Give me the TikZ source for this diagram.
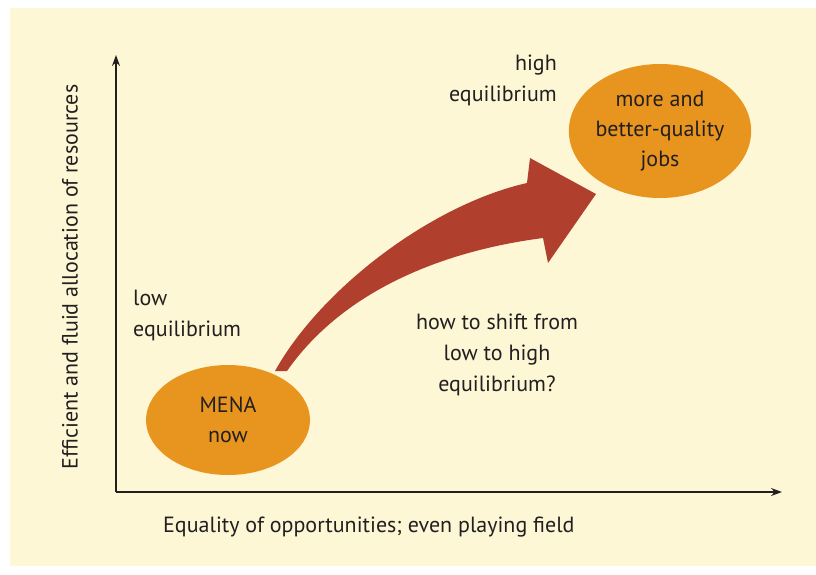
\documentclass[tikz,border=0pt]{standalone}
\usepackage{fontspec}
\setmainfont{PT Sans}
\usetikzlibrary{shapes.geometric,arrows.meta}
\definecolor{bgyellow}{RGB}{254,247,214}
\definecolor{orangefill}{RGB}{232,149,31}
\definecolor{arrowred}{RGB}{176,64,45}
\definecolor{txt}{RGB}{35,31,32}
\tikzset{
  lbl/.style={font=\fontsize{22}{31}\selectfont, text=txt, inner sep=0pt},
  bubble/.style={ellipse, fill=orangefill, inner sep=0pt, align=center,
                 font=\fontsize{22}{30}\selectfont, text=txt},
  axis/.style={line width=1.5pt, draw=txt, -{Stealth[length=11pt,width=8pt]}}
}
\begin{document}
\begin{tikzpicture}[x=1pt,y=-1pt]
\useasboundingbox (0,0) rectangle (816,574);
\fill[white] (0,0) rectangle (816,574);
\fill[bgyellow] (10,8) rectangle (816,566);
% axes
\coordinate (origin) at (116,492);
\coordinate (ytip) at (116,55);
\coordinate (xtip) at (782,492);
\draw[axis] (origin) -- (ytip);
\draw[axis] (origin) -- (xtip);
% axis labels
\node[lbl, anchor=west] (xlab) at (163,527) {Equality of opportunities; even playing field};
\node[lbl, rotate=90] (ylab) at (70,277) {Efficient and fluid allocation of resources};
% bubbles
\node[bubble, minimum width=164pt, minimum height=110pt] (mena) at (228,420) {MENA\\now};
\node[bubble, minimum width=182pt, minimum height=134pt] (jobs) at (660,131) {more and\\better-quality\\jobs};
% big arrow
\fill[arrowred] (275,371)
  .. controls (320,290) and (430,205) .. (527,183)
  -- (530,158) -- (596,194) -- (548,263) -- (543,238)
  .. controls (435,252) and (340,295) .. (287,371) -- cycle;
% texts
\node[lbl, align=right, anchor=north east] (high) at (557,55) {high\\equilibrium};
\node[lbl, align=left, anchor=north west] (low) at (133,290) {low\\equilibrium};
\node[lbl, align=center] (how) at (497,355) {how to shift from\\low to high\\equilibrium?};
\end{tikzpicture}
\end{document}
